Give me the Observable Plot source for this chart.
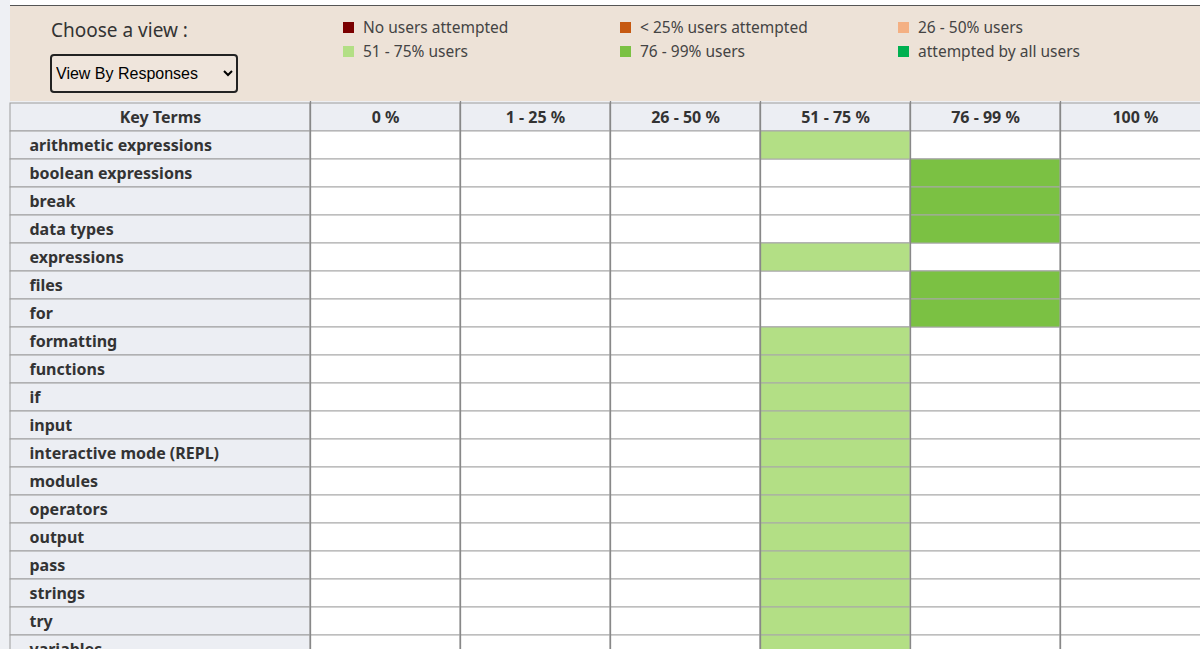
<!DOCTYPE html>
<html>
<head>
<meta charset="utf-8">
<script src="https://cdn.jsdelivr.net/npm/d3@7"></script>
<script src="https://cdn.jsdelivr.net/npm/@observablehq/plot@0.6"></script>
<style>
  html, body { margin: 0; padding: 0; background: #eef0f4; width: 1200px; height: 649px; overflow: hidden; }
  body { font-family: "Noto Sans", "Open Sans", sans-serif; color: #333; position: relative; }
  #top { position: absolute; left: 10px; top: 0; width: 1190px; height: 5px; background: #fff; border-bottom: 1px solid #555; }
  #panel { position: absolute; left: 10px; top: 6px; width: 1190px; height: 95px; background: #ede2d7; }
  #choose { position: absolute; left: 41px; top: 11px; font-size: 19px; color: #333; }
  #view { position: absolute; left: 40px; top: 48px; width: 188px; height: 39px; font-family: "Liberation Sans", Arial, sans-serif;
          font-size: 16px; color: #000; background: #efe5dc; border: 2px solid #222; border-radius: 4px; padding-left: 0px; }
  #legend { position: absolute; left: 333px; top: 11px; display: grid; grid-template-columns: 277px 278px 280px; row-gap: 4px; }
  .li { display: flex; align-items: center; font-size: 15.5px; color: #444; height: 20px; }
  .sw { width: 11px; height: 11px; margin-right: 9px; flex: none; }
  #chart { position: absolute; left: 0; top: 101px; }
</style>
</head>
<body>
<div id="top"></div>
<div id="panel">
  <div id="choose">Choose a view :</div>
  <select id="view"><option>View By Responses</option></select>
  <div id="legend"></div>
</div>
<div id="chart"></div>
<script>
// ---- data ----
const legendLabels = ["No users attempted", "< 25% users attempted", "26 - 50% users",
                      "51 - 75% users", "76 - 99% users", "attempted by all users"];
const legendColors = ["#7a0000", "#c65911", "#f4b083", "#b3df85", "#7bc143", "#00b050"];
const headerLabel = "Key Terms";
const columns = ["0 %", "1 - 25 %", "26 - 50 %", "51 - 75 %", "76 - 99 %", "100 %"];
const terms = ["arithmetic expressions", "boolean expressions", "break", "data types", "expressions",
               "files", "for", "formatting", "functions", "if", "input", "interactive mode (REPL)",
               "modules", "operators", "output", "pass", "strings", "try", "variables"];
// response bucket (column) for each term, same order as terms
const buckets = ["51 - 75 %", "76 - 99 %", "76 - 99 %", "76 - 99 %", "51 - 75 %",
                 "76 - 99 %", "76 - 99 %", "51 - 75 %", "51 - 75 %", "51 - 75 %", "51 - 75 %", "51 - 75 %",
                 "51 - 75 %", "51 - 75 %", "51 - 75 %", "51 - 75 %", "51 - 75 %", "51 - 75 %", "51 - 75 %"];

// ---- legend (HTML, grid fills row-wise: 3 columns x 2 rows) ----
const leg = document.getElementById("legend");
legendLabels.forEach((lab, i) => {
  const d = document.createElement("div");
  d.className = "li";
  const sw = document.createElement("span");
  sw.className = "sw";
  sw.style.background = legendColors[i];
  const tx = document.createElement("span");
  tx.textContent = lab;
  d.appendChild(sw); d.appendChild(tx);
  leg.appendChild(d);
});

// ---- table ----
const rows = [headerLabel, ...terms];
const colIdx = new Map(columns.map((c, i) => [c, i]));
const cells = [];
for (const t of terms) for (const c of columns) cells.push({term: t, col: c, i: colIdx.get(c)});
const filled = terms.map((t, k) => ({term: t, col: buckets[k], i: colIdx.get(buckets[k]),
  cat: buckets[k] === "51 - 75 %" ? legendLabels[3] : legendLabels[4]}));
const headerCells = columns.map((c, i) => ({col: c, i}));

const rowH = 28.16;
const chart = Plot.plot({
  width: 1200,
  height: 548,
  margin: 0,
  style: {background: "transparent", fontFamily: "'Noto Sans', sans-serif"},
  x: {type: "linear", domain: [-2, columns.length], range: [10, 1210], axis: null},
  y: {type: "band", domain: rows, range: [0.5, 0.5 + rows.length * rowH], padding: 0, axis: null},
  color: {type: "ordinal", domain: legendLabels, range: legendColors},
  marks: [
    Plot.barX(rows, {y: d => d, x1: -2, x2: 0, fill: "#eceef3", stroke: "#9c9c9c", strokeWidth: 1}),
    Plot.barX(headerCells, {y: () => headerLabel, x1: d => d.i, x2: d => d.i + 1, fill: "#eceef3", stroke: "#9c9c9c", strokeWidth: 1}),
    Plot.barX(cells, {y: "term", x1: d => d.i, x2: d => d.i + 1, fill: "#ffffff", stroke: "#a8a8a8", strokeWidth: 1}),
    Plot.barX(filled, {y: "term", x1: d => d.i, x2: d => d.i + 1, fill: "cat", stroke: "#a8a8a8", strokeWidth: 1}),
    Plot.ruleX(d3.range(0, columns.length), {x: d => d, stroke: "#888", strokeWidth: 1.3}),
    Plot.text([headerLabel], {x: -1, y: d => d, text: d => d, fontWeight: "bold", fontSize: 16, fill: "#333", dy: 0}),
    Plot.text(headerCells, {x: d => d.i + 0.5, y: () => headerLabel, text: "col", fontWeight: "bold", fontSize: 16, fill: "#333", dy: 0}),
    Plot.text(terms, {x: -2, y: d => d, text: d => d, textAnchor: "start", dx: 19, dy: 0, fontWeight: "bold", fontSize: 16, fill: "#333"})
  ]
});
document.getElementById("chart").appendChild(chart);
</script>
</body>
</html>
